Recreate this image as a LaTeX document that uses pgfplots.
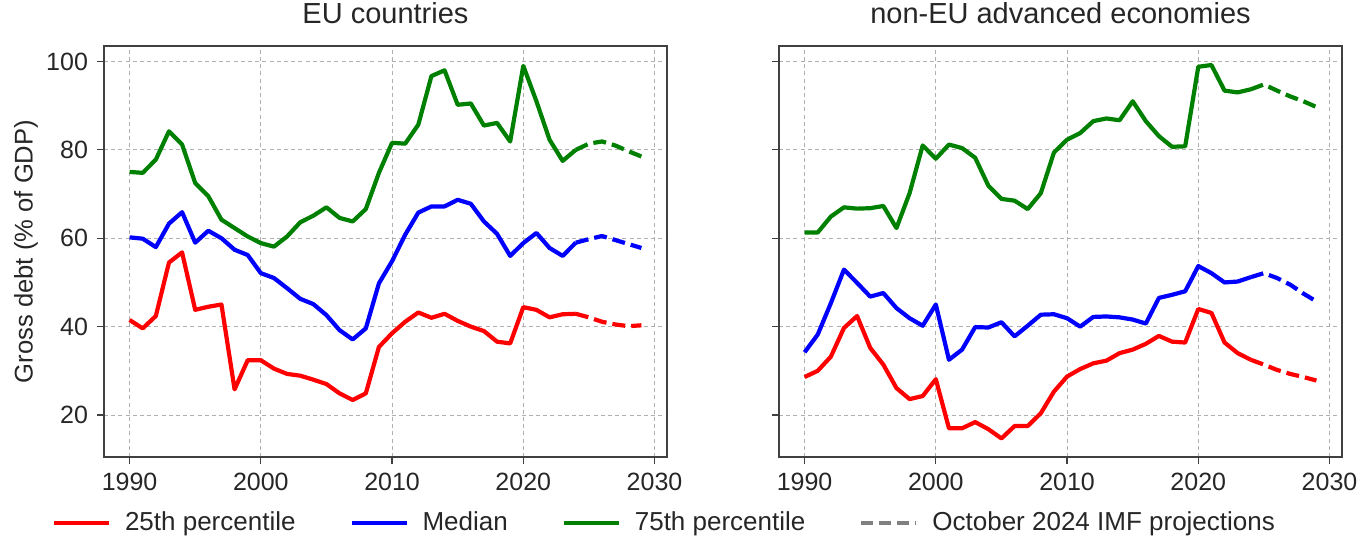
\documentclass[border=0pt]{standalone}
\usepackage{fontspec}
\setmainfont{Liberation Sans}
\usepackage{pgfplots}
\usepackage{pgfplotstable}
\pgfplotsset{compat=1.18}

\pgfplotstableread{
year p25 med p75
1990 41.5 60.2 75.0
1991 39.6 59.9 74.8
1992 42.4 58.0 77.8
1993 54.5 63.3 84.2
1994 56.8 65.9 81.2
1995 43.8 59.0 72.5
1996 44.5 61.7 69.5
1997 45.0 60.0 64.2
1998 25.8 57.4 62.3
1999 32.4 56.2 60.4
2000 32.4 52.1 58.9
2001 30.5 51.0 58.1
2002 29.3 48.7 60.4
2003 28.9 46.3 63.6
2004 28.0 45.1 65.1
2005 27.0 42.6 67.0
2006 24.9 39.2 64.6
2007 23.4 37.1 63.8
2008 24.9 39.6 66.6
2009 35.4 49.8 74.8
2010 38.5 54.8 81.6
2011 41.1 60.8 81.4
2012 43.2 65.8 85.7
2013 42.0 67.2 96.7
2014 42.9 67.2 98.0
2015 41.3 68.7 90.2
2016 40.0 67.8 90.5
2017 39.0 63.8 85.5
2018 36.6 61.0 86.1
2019 36.2 56.0 81.9
2020 44.4 58.9 99.0
2021 43.8 61.2 91.0
2022 42.1 57.8 82.3
2023 42.8 56.0 77.5
2024 42.9 59.0 80.0
2025 42.1 59.8 81.4
2026 41.1 60.5 81.9
2027 40.5 59.6 81.0
2028 40.1 58.7 79.7
2029 40.3 57.8 78.5
}\eutable

\pgfplotstableread{
year p25 med p75
1990 28.6 34.2 61.3
1991 30.0 38.2 61.3
1992 33.2 45.3 64.9
1993 39.7 52.9 67.0
1994 42.4 49.9 66.7
1995 35.2 46.8 66.8
1996 31.4 47.6 67.3
1997 26.1 44.2 62.3
1998 23.6 41.9 70.2
1999 24.3 40.2 81.0
2000 28.1 45.0 78.0
2001 17.0 32.5 81.2
2002 17.0 34.8 80.4
2003 18.4 39.9 78.2
2004 16.8 39.8 71.9
2005 14.7 41.0 68.9
2006 17.5 37.8 68.5
2007 17.5 40.2 66.6
2008 20.4 42.7 70.2
2009 25.3 42.8 79.4
2010 28.7 41.9 82.3
2011 30.4 40.0 83.8
2012 31.7 42.2 86.5
2013 32.3 42.3 87.1
2014 34.0 42.1 86.7
2015 34.8 41.6 91.0
2016 36.1 40.7 86.5
2017 37.9 46.5 83.1
2018 36.6 47.2 80.7
2019 36.4 48.0 80.8
2020 44.0 53.7 98.8
2021 43.1 52.1 99.2
2022 36.4 50.0 93.4
2023 34.0 50.2 93.0
2024 32.5 51.2 93.7
2025 31.4 52.1 94.8
2026 30.2 51.0 93.4
2027 29.3 49.5 92.1
2028 28.6 47.5 91.0
2029 27.8 45.7 89.7
}\noneutable

\definecolor{mplred}{RGB}{255,0,0}
\definecolor{mplblue}{RGB}{0,0,255}
\definecolor{mplgreen}{RGB}{0,128,0}
\definecolor{gridgray}{RGB}{176,176,176}
\definecolor{framegray}{RGB}{64,64,64}

\pgfplotsset{
  panel/.style={
    scale only axis,
    width=281.5pt, height=205.5pt,
    anchor=south west,
    xmin=1988.05, xmax=2030.95,
    ymin=10.5, ymax=103.5,
    xtick={1990,2000,...,2030},
    ytick={20,40,...,100},
    grid=major,
    major grid style={gridgray, dash pattern=on 2pt off 1.6pt, line width=0.5pt},
    axis line style={framegray, line width=0.75pt},
    tick align=outside,
    major tick length=3.5pt,
    tick style={framegray, line width=0.6pt},
    xtick pos=bottom, ytick pos=left,
    /pgf/number format/1000 sep={},
    /pgf/number format/assume math mode=true,
    tick label style={font=\fontsize{12.5}{14}\selectfont, text=black!85},
    xticklabel style={anchor=north, yshift=-1pt},
    yticklabel style={anchor=east, xshift=-1pt},
    title style={at={(axis description cs:0.5,1)}, anchor=base, yshift=5.5pt, font=\fontsize{14.5}{16}\selectfont, text=black!85},
    every axis plot/.append style={line width=2.1pt, line join=round},
  },
  solidpart/.style={restrict x to domain=1990:2024},
  dashpart/.style={restrict x to domain=2024:2029, dash pattern=on 6.5pt off 3pt},
}

\begin{document}
\begin{tikzpicture}
\useasboundingbox (0,0) rectangle (680.5pt,268pt);

\begin{axis}[panel, at={(52pt,39.5pt)},
  title={EU countries},
  ylabel={Gross debt (\% of GDP)},
  ylabel style={at={(axis description cs:-0.1385,0.5)}, anchor=center, font=\fontsize{12.8}{14}\selectfont, text=black!85},
  legend columns=4,
  legend style={draw=none, fill=none, at={(axis description cs:0.9973,-0.16)}, anchor=center,
    font=\fontsize{13}{15}\selectfont, text=black!85,
    /tikz/every odd column/.append style={column sep=5pt},
    /tikz/every even column/.append style={column sep=25pt}},
  legend image code/.code={\draw[#1] (0pt,0pt) -- (27.5pt,0pt);},
]
\addlegendimage{mplred, line width=2pt}
\addlegendentry{25th percentile}
\addlegendimage{mplblue, line width=2pt}
\addlegendentry{Median}
\addlegendimage{mplgreen, line width=2pt}
\addlegendentry{75th percentile}
\addlegendimage{gray, line width=2pt, dash pattern=on 6pt off 3pt}
\addlegendentry{October 2024 IMF projections}

\addplot[mplred, solidpart, forget plot] table[x=year, y=p25] {\eutable};
\addplot[mplred, dashpart, forget plot] table[x=year, y=p25] {\eutable};
\addplot[mplblue, solidpart, forget plot] table[x=year, y=med] {\eutable};
\addplot[mplblue, dashpart, forget plot] table[x=year, y=med] {\eutable};
\addplot[mplgreen, solidpart, forget plot] table[x=year, y=p75] {\eutable};
\addplot[mplgreen, dashpart, forget plot] table[x=year, y=p75] {\eutable};
\end{axis}

\begin{axis}[panel, at={(389.5pt,39.5pt)},
  title={non-EU advanced economies},
  yticklabels={},
]
\addplot[mplred, solidpart] table[x=year, y=p25] {\noneutable};
\addplot[mplred, dashpart] table[x=year, y=p25] {\noneutable};
\addplot[mplblue, solidpart] table[x=year, y=med] {\noneutable};
\addplot[mplblue, dashpart] table[x=year, y=med] {\noneutable};
\addplot[mplgreen, solidpart] table[x=year, y=p75] {\noneutable};
\addplot[mplgreen, dashpart] table[x=year, y=p75] {\noneutable};
\end{axis}
\end{tikzpicture}
\end{document}
